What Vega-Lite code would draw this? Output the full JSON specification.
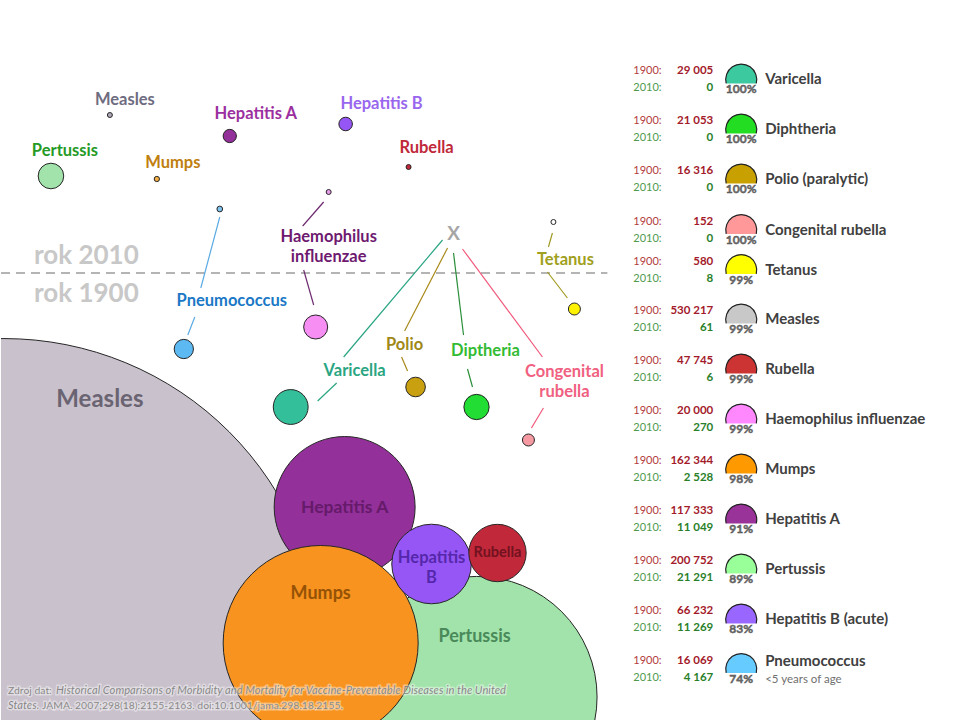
{
"$schema":"https://vega.github.io/schema/vega-lite/v6.json",
"width":960,"height":720,
"autosize":{"type":"fit","contains":"padding"},
"padding":0,
"background":"#ffffff",
"config":{"view":{"stroke":null},"font":"Lato","locale":{"number":{"decimal":",","thousands":" ","grouping":[3],"currency":["",""]}}},
"datasets":{
 "diseases":[
  {"d":"Measles","name":"Measles","c1900":530217,"c2010":61,"pct":"99%","x1900":3,"y1900":657,"x2010":109,"y2010":115,"ty":311},
  {"d":"Pertussis","name":"Pertussis","c1900":200752,"c2010":21291,"pct":"89%","x1900":476,"y1900":697,"x2010":50,"y2010":176,"ty":561},
  {"d":"Hepatitis A","name":"Hepatitis A","c1900":117333,"c2010":11049,"pct":"91%","x1900":344,"y1900":507,"x2010":229,"y2010":136,"ty":511},
  {"d":"Mumps","name":"Mumps","c1900":162344,"c2010":2528,"pct":"98%","x1900":320,"y1900":643,"x2010":156,"y2010":179,"ty":461},
  {"d":"Hepatitis B","name":"Hepatitis B (acute)","c1900":66232,"c2010":11269,"pct":"83%","x1900":431,"y1900":564,"x2010":345,"y2010":124,"ty":611},
  {"d":"Rubella","name":"Rubella","c1900":47745,"c2010":6,"pct":"99%","x1900":497,"y1900":553,"x2010":408,"y2010":167,"ty":361},
  {"d":"Varicella","name":"Varicella","c1900":29005,"c2010":0,"pct":"100%","x1900":290,"y1900":407,"ty":71},
  {"d":"Diphtheria","name":"Diphtheria","c1900":21053,"c2010":0,"pct":"100%","x1900":476,"y1900":407,"ty":121},
  {"d":"Haemophilus influenzae","name":"Haemophilus influenzae","c1900":20000,"c2010":270,"pct":"99%","x1900":315,"y1900":327,"x2010":328,"y2010":192,"ty":411},
  {"d":"Polio","name":"Polio (paralytic)","c1900":16316,"c2010":0,"pct":"100%","x1900":415,"y1900":387,"ty":171},
  {"d":"Pneumococcus","name":"Pneumococcus","c1900":16069,"c2010":4167,"pct":"74%","x1900":183,"y1900":349,"x2010":219,"y2010":209,"ty":660.5},
  {"d":"Congenital rubella","name":"Congenital rubella","c1900":152,"c2010":0,"pct":"100%","x1900":528,"y1900":440,"ty":221.5},
  {"d":"Tetanus","name":"Tetanus","c1900":580,"c2010":8,"pct":"99%","x1900":574,"y1900":309,"x2010":553,"y2010":222,"ty":261.5}
 ],
 "links":[
  {"d":"Pneumococcus","x":219,"y":217,"x2":200,"y2":288},
  {"d":"Pneumococcus","x":194,"y":317,"x2":187,"y2":335},
  {"d":"Haemophilus influenzae","x":323,"y":202,"x2":302,"y2":226},
  {"d":"Haemophilus influenzae","x":303,"y":270,"x2":313,"y2":305},
  {"d":"Tetanus","x":552,"y":233,"x2":548,"y2":247},
  {"d":"Tetanus","x":547,"y":272,"x2":567,"y2":298},
  {"d":"Varicella","x":442,"y":240,"x2":343,"y2":357},
  {"d":"Varicella","x":336,"y":383,"x2":317,"y2":401},
  {"d":"Polio","x":447,"y":248,"x2":404,"y2":331},
  {"d":"Polio","x":401,"y":357,"x2":407,"y2":371},
  {"d":"Diphtheria","x":453,"y":253,"x2":463,"y2":335},
  {"d":"Diphtheria","x":467,"y":369,"x2":472,"y2":387},
  {"d":"Congenital rubella","x":462,"y":249,"x2":542,"y2":357},
  {"d":"Congenital rubella","x":543,"y":408,"x2":531,"y2":428}
 ],
 "outerLabels":[
  {"d":"Measles","t":"Measles","x":124,"y":100},
  {"d":"Hepatitis A","t":"Hepatitis A","x":255,"y":114},
  {"d":"Hepatitis B","t":"Hepatitis B","x":381,"y":104},
  {"d":"Pertussis","t":"Pertussis","x":64,"y":151},
  {"d":"Mumps","t":"Mumps","x":172,"y":163},
  {"d":"Rubella","t":"Rubella","x":426,"y":148},
  {"d":"Haemophilus influenzae","t":["Haemophilus","influenzae"],"x":328,"y":237},
  {"d":"Tetanus","t":"Tetanus","x":565,"y":260},
  {"d":"Pneumococcus","t":"Pneumococcus","x":231,"y":301},
  {"d":"Varicella","t":"Varicella","x":354,"y":371},
  {"d":"Polio","t":"Polio","x":404,"y":345},
  {"d":"Diphtheria","t":"Diptheria","x":485,"y":351},
  {"d":"Congenital rubella","t":["Congenital","rubella"],"x":564,"y":372}
 ],
 "innerLabels":[
  {"d":"Measles","t":"Measles","x":99,"y":400},
  {"d":"Hepatitis A","t":"Hepatitis A","x":344,"y":508},
  {"d":"Mumps","t":"Mumps","x":320,"y":594},
  {"d":"Hepatitis B","t":["Hepatitis","B"],"x":431,"y":558},
  {"d":"Rubella","t":"Rubella","x":497,"y":553},
  {"d":"Pertussis","t":"Pertussis","x":474,"y":637}
 ],
 "sourceRegular":[
  {"t":"Zdroj dat: ","x":7,"y":691},
  {"t":"JAMA. 2007;298(18):2155-2163. doi:10.1001/jama.298.18.2155.","x":41,"y":706}
 ],
 "sourceItalic":[
  {"t":"Historical Comparisons of Morbidity and Mortality for Vaccine-Preventable Diseases in the United","x":55,"y":691},
  {"t":"States.","x":7,"y":706}
 ]
},
"layer":[
 {"data":{"values":[{"x":0,"x2":607,"y":273}]},
  "mark":{"type":"rule","strokeDash":[9,6],"strokeWidth":2,"color":"#b4b4b4"},
  "encoding":{"x":{"field":"x","type":"quantitative","scale":{"domain":[0,960],"nice":false,"zero":false},"axis":null},"x2":{"field":"x2"},
   "y":{"field":"y","type":"quantitative","scale":{"domain":[0,720],"nice":false,"zero":false,"reverse":true},"axis":null}}},
 {"data":{"values":[{"t":"rok 2010","x":33,"y":256},{"t":"rok 1900","x":33,"y":294}]},
  "mark":{"type":"text","align":"left","baseline":"middle","fontSize":26,"fontWeight":"bold","color":"#c8c8c8"},
  "encoding":{"x":{"field":"x","type":"quantitative","axis":null},"y":{"field":"y","type":"quantitative","axis":null},"text":{"field":"t"}}},
 {"data":{"name":"diseases"},
  "mark":{"type":"point","shape":"circle","filled":true,"opacity":1,"stroke":"#262626","strokeWidth":1,"clip":true},
  "encoding":{"x":{"field":"x1900","type":"quantitative","axis":null},"y":{"field":"y1900","type":"quantitative","axis":null},
   "size":{"field":"c1900","type":"quantitative","legend":null,"scale":{"type":"pow","exponent":2,"zero":false,"nice":false,"domain":[0,12000,530217],"range":[144,207.8,405616]}},
   "color":{"field":"d","type":"nominal","legend":null,"scale":{"domain":["Measles","Pertussis","Hepatitis A","Mumps","Hepatitis B","Rubella","Varicella","Diphtheria","Haemophilus influenzae","Polio","Pneumococcus","Congenital rubella","Tetanus"],"range":["#c9c1cc","#a1e3aa","#93309a","#f7931e","#9556f5","#c1283a","#33bf99","#22dd33","#f78ef3","#c9a010","#5db9f2","#f59aa2","#fff200"]}}}},
 {"data":{"name":"diseases"},
  "transform":[{"filter":"datum.c2010 > 0"}],
  "mark":{"type":"point","shape":"circle","filled":true,"opacity":1,"stroke":"#262626","strokeWidth":1},
  "encoding":{"x":{"field":"x2010","type":"quantitative","axis":null},"y":{"field":"y2010","type":"quantitative","axis":null},
   "size":{"field":"c2010","type":"quantitative","legend":null,"scale":{"type":"pow","exponent":2,"zero":false,"nice":false,"domain":[0,5000,530217],"range":[25,36.1,405616]}},
   "color":{"field":"d","type":"nominal","legend":null,"scale":{"domain":["Measles","Pertussis","Hepatitis A","Mumps","Hepatitis B","Rubella","Haemophilus influenzae","Pneumococcus","Tetanus"],"range":["#b0a8b8","#a1e3aa","#93309a","#f5b04a","#9556f5","#c1283a","#e89ae8","#80c4ee","#ffffff"]}}}},
 {"data":{"name":"links"},
  "mark":{"type":"rule","strokeWidth":1.2},
  "encoding":{"x":{"field":"x","type":"quantitative","axis":null},"y":{"field":"y","type":"quantitative","axis":null},"x2":{"field":"x2"},"y2":{"field":"y2"},
   "color":{"field":"d","type":"nominal","legend":null,"scale":{"domain":["Pneumococcus","Haemophilus influenzae","Tetanus","Varicella","Polio","Diphtheria","Congenital rubella"],"range":["#5aaae2","#6e2a70","#a09a22","#2aa582","#a88a1c","#2a8f3a","#f0587a"]}}}},
 {"data":{"name":"outerLabels"},
  "mark":{"type":"text","align":"center","baseline":"middle","fontSize":16.5,"fontWeight":"bold","lineHeight":20},
  "encoding":{"x":{"field":"x","type":"quantitative","axis":null},"y":{"field":"y","type":"quantitative","axis":null},"text":{"field":"t"},
   "color":{"field":"d","type":"nominal","legend":null,"scale":{"domain":["Measles","Hepatitis A","Hepatitis B","Pertussis","Mumps","Rubella","Haemophilus influenzae","Tetanus","Pneumococcus","Varicella","Polio","Diphtheria","Congenital rubella"],"range":["#6e6c80","#9b2fa0","#9966ee","#249a24","#c08010","#c0283a","#6e1a70","#a0a020","#1a78c6","#2aa582","#a08818","#33bb33","#f06080"]}}}},
 {"data":{"name":"innerLabels"},
  "mark":{"type":"text","align":"center","baseline":"middle","fontWeight":"bold","lineHeight":20},
  "encoding":{"x":{"field":"x","type":"quantitative","axis":null},"y":{"field":"y","type":"quantitative","axis":null},"text":{"field":"t"},
   "size":{"condition":[{"test":"datum.d == 'Measles'","value":24},{"test":"datum.d == 'Pertussis'","value":18},{"test":"datum.d == 'Hepatitis B'","value":16.5},{"test":"datum.d == 'Rubella'","value":14.5},{"test":"datum.d == 'Mumps'","value":18}],"value":17.5},
   "color":{"field":"d","type":"nominal","legend":null,"scale":{"domain":["Measles","Hepatitis A","Mumps","Hepatitis B","Rubella","Pertussis"],"range":["#6a6472","#651a6a","#955206","#5527ab","#721220","#4a8a5a"]}}}},
 {"data":{"values":[{"t":"X","x":453,"y":234}]},
  "mark":{"type":"text","align":"center","baseline":"middle","fontSize":19,"fontWeight":"bold","color":"#a6a6a6"},
  "encoding":{"x":{"field":"x","type":"quantitative","axis":null},"y":{"field":"y","type":"quantitative","axis":null},"text":{"field":"t"}}},
 {"data":{"name":"diseases"},
  "mark":{"type":"text","text":"1900:","align":"left","baseline":"middle","fontSize":11,"color":"#b23c3c"},
  "encoding":{"x":{"datum":633,"type":"quantitative","axis":null},"y":{"field":"ty","type":"quantitative","axis":null}}},
 {"data":{"name":"diseases"},
  "mark":{"type":"text","text":"2010:","align":"left","baseline":"middle","fontSize":11,"color":"#4f9a4f","yOffset":17},
  "encoding":{"x":{"datum":633,"type":"quantitative","axis":null},"y":{"field":"ty","type":"quantitative","axis":null}}},
 {"data":{"name":"diseases"},
  "mark":{"type":"text","align":"right","baseline":"middle","fontSize":11.5,"fontWeight":"bold","color":"#a31a2a"},
  "encoding":{"x":{"datum":713,"type":"quantitative","axis":null},"y":{"field":"ty","type":"quantitative","axis":null},"text":{"field":"c1900","type":"quantitative","format":",d"}}},
 {"data":{"name":"diseases"},
  "mark":{"type":"text","align":"right","baseline":"middle","fontSize":11.5,"fontWeight":"bold","color":"#2a7f2a","yOffset":17},
  "encoding":{"x":{"datum":713,"type":"quantitative","axis":null},"y":{"field":"ty","type":"quantitative","axis":null},"text":{"field":"c2010","type":"quantitative","format":",d"}}},
 {"data":{"name":"diseases"},
  "mark":{"type":"point","shape":"M -0.97 0.25 A 1 1 0 1 1 0.97 0.25 Z","filled":true,"opacity":1,"size":961,"yOffset":8.5,"strokeWidth":0},
  "encoding":{"x":{"datum":741,"type":"quantitative","axis":null},"y":{"field":"ty","type":"quantitative","axis":null},
   "color":{"field":"d","type":"nominal","legend":null,"scale":{"domain":["Varicella","Diphtheria","Polio","Congenital rubella","Tetanus","Measles","Rubella","Haemophilus influenzae","Mumps","Hepatitis A","Pertussis","Hepatitis B","Pneumococcus"],"range":["#3cc9a0","#22dd22","#c8a000","#ff9999","#ffff00","#c8c8c8","#cc3333","#ff88ff","#ff9900","#993399","#99ff99","#9966ff","#66ccff"]}}}},
 {"data":{"name":"diseases"},
  "mark":{"type":"point","shape":"M -0.97 0.25 A 1 1 0 1 1 0.97 0.25","filled":false,"opacity":1,"size":961,"yOffset":8.5,"strokeWidth":1.2,"color":"#222222"},
  "encoding":{"x":{"datum":741,"type":"quantitative","axis":null},"y":{"field":"ty","type":"quantitative","axis":null}}},
 {"data":{"name":"diseases"},
  "mark":{"type":"text","align":"center","baseline":"middle","fontSize":12,"fontWeight":"bold","color":"#6e6e6e","stroke":"#4a4a4a","strokeWidth":0.4,"yOffset":18},
  "encoding":{"x":{"datum":741,"type":"quantitative","axis":null},"y":{"field":"ty","type":"quantitative","axis":null},"text":{"field":"pct"}}},
 {"data":{"name":"diseases"},
  "transform":[{"filter":"datum.d != 'Pneumococcus'"}],
  "mark":{"type":"text","align":"left","baseline":"middle","fontSize":15,"fontWeight":"bold","color":"#404040","yOffset":8},
  "encoding":{"x":{"datum":765,"type":"quantitative","axis":null},"y":{"field":"ty","type":"quantitative","axis":null},"text":{"field":"name"}}},
 {"data":{"name":"diseases"},
  "transform":[{"filter":"datum.d == 'Pneumococcus'"}],
  "mark":{"type":"text","align":"left","baseline":"middle","fontSize":15,"fontWeight":"bold","color":"#404040"},
  "encoding":{"x":{"datum":765,"type":"quantitative","axis":null},"y":{"field":"ty","type":"quantitative","axis":null},"text":{"field":"name"}}},
 {"data":{"name":"diseases"},
  "transform":[{"filter":"datum.d == 'Pneumococcus'"}],
  "mark":{"type":"text","text":"<5 years of age","align":"left","baseline":"middle","fontSize":11.5,"color":"#707070","yOffset":19},
  "encoding":{"x":{"datum":765,"type":"quantitative","axis":null},"y":{"field":"ty","type":"quantitative","axis":null}}},
 {"data":{"name":"sourceRegular"},
  "mark":{"type":"text","align":"left","baseline":"middle","fontSize":10.4,"color":"#ffffff","stroke":"#ffffff","strokeWidth":3,"strokeOpacity":0.5,"opacity":0.8},
  "encoding":{"x":{"field":"x","type":"quantitative","axis":null},"y":{"field":"y","type":"quantitative","axis":null},"text":{"field":"t"}}},
 {"data":{"name":"sourceItalic"},
  "mark":{"type":"text","align":"left","baseline":"middle","fontSize":11.2,"fontStyle":"italic","color":"#ffffff","stroke":"#ffffff","strokeWidth":3,"strokeOpacity":0.5,"opacity":0.8},
  "encoding":{"x":{"field":"x","type":"quantitative","axis":null},"y":{"field":"y","type":"quantitative","axis":null},"text":{"field":"t"}}},
 {"data":{"name":"sourceRegular"},
  "mark":{"type":"text","align":"left","baseline":"middle","fontSize":10.4,"color":"#858585"},
  "encoding":{"x":{"field":"x","type":"quantitative","axis":null},"y":{"field":"y","type":"quantitative","axis":null},"text":{"field":"t"}}},
 {"data":{"name":"sourceItalic"},
  "mark":{"type":"text","align":"left","baseline":"middle","fontSize":11.2,"fontStyle":"italic","color":"#858585"},
  "encoding":{"x":{"field":"x","type":"quantitative","axis":null},"y":{"field":"y","type":"quantitative","axis":null},"text":{"field":"t"}}}
],
"resolve":{"scale":{"color":"independent","size":"independent"}}
}
